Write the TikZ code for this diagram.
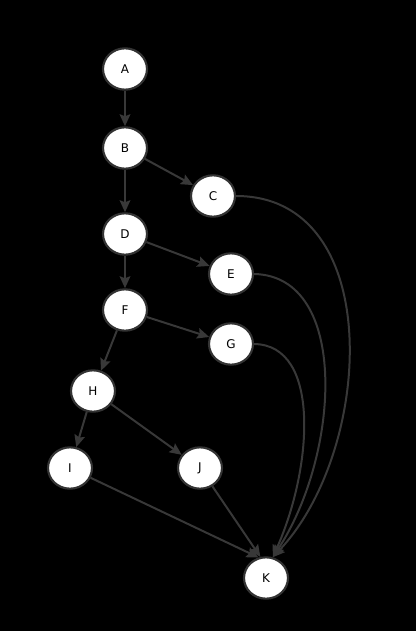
\documentclass[tikz,border=0pt]{standalone}
\usepackage{fontspec}
\setmainfont{DejaVu Sans}
\usetikzlibrary{arrows.meta,shapes.geometric}

\begin{document}
\begin{tikzpicture}[>={Stealth[length=9pt,width=8pt,inset=1.5pt]}, x=0.75pt, y=-0.75pt]
			\tikzstyle{format} = [draw=black!80, line width=1.6pt, ellipse, fill=white, minimum width=33pt, minimum height=31pt, inner sep=0pt, font=\small]
			\tikzstyle{link} = [->, line width=1.5pt, color=black!78]
			\fill[black] (0,0) rectangle (416,631);
			\useasboundingbox (0,0) rectangle (416,631);
			\begin{scope}
			\path
			node[format] at (125,69) (a) {A}
			node[format] at (125,148) (b) {B}
			node[format] at (213,196) (c) {C}
			node[format] at (125,234) (d) {D}
			node[format] at (231,274) (e) {E}
			node[format] at (125,310) (f) {F}
			node[format] at (231,344) (g) {G}
			node[format] at (93,391) (h) {H}
			node[format] at (70,468) (i) {I}
			node[format] at (200,468) (j) {J}
			node[format] at (266,578) (k) {K}
			;
			\path[link]
			(a) edge (b)
			(b) edge (c)
			(b) edge (d)
			(d) edge (e)
			(d) edge (f)
			(f) edge (g)
			(f) edge (h)
			(h) edge (i)
			(h) edge (j)
			(i) edge (k.110)
			(j) edge (k.105)
			;
			\draw[link] (c.east) .. controls (386,196) and (374,450) .. (k.72);
			\draw[link] (e.east) .. controls (350,276) and (340,455) .. (k.72);
			\draw[link] (g.east) .. controls (322,345) and (312,470) .. (k.72);
			\end{scope}
			\end{tikzpicture}
\end{document}
